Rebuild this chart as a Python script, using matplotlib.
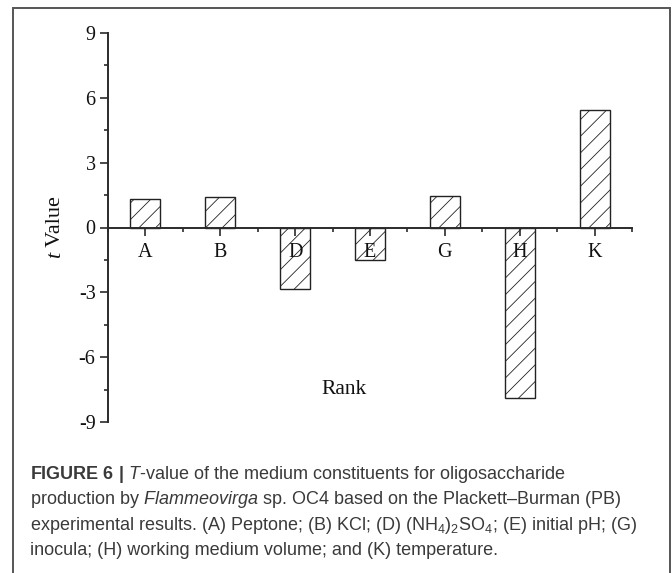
import matplotlib.pyplot as plt
from matplotlib.patches import Rectangle

# t values of the Plackett-Burman factors
factors = ['A', 'B', 'D', 'E', 'G', 'H', 'K']
t_values = [1.33, 1.42, -2.85, -1.49, 1.48, -7.87, 5.44]
y_ticks = [-9, -6, -3, 0, 3, 6, 9]

caption_lines = [
    r"$\mathbf{FIGURE\ 6\ |}$ $\mathit{T}$-value of the medium constituents for oligosaccharide",
    r"production by $\mathit{Flammeovirga}$ sp. OC4 based on the Plackett–Burman (PB)",
    r"experimental results. (A) Peptone; (B) KCl; (D) (NH$_4$)$_2$SO$_4$; (E) initial pH; (G)",
    r"inocula; (H) working medium volume; and (K) temperature.",
]

plt.rcParams['mathtext.fontset'] = 'custom'
plt.rcParams['mathtext.rm'] = 'Liberation Sans'
plt.rcParams['mathtext.it'] = 'Liberation Sans:italic'
plt.rcParams['mathtext.bf'] = 'Liberation Sans:bold'
plt.rcParams['hatch.linewidth'] = 0.6

serif = 'Liberation Serif'
axis_col = '#2b2b2b'

fig = plt.figure(figsize=(6.72, 5.73), dpi=100)
ax = fig.add_axes([108 / 672, 1 - 422 / 573, (632 - 108) / 672, (422 - 33) / 573])

x = list(range(len(factors)))
ax.bar(x, t_values, width=0.4, color='white', edgecolor='#222222',
       linewidth=1.0, hatch='//')

ax.set_xlim(-0.5, 6.5)
ax.set_ylim(-9, 9)

for side in ['top', 'right']:
    ax.spines[side].set_visible(False)
ax.spines['bottom'].set_position(('data', 0))
for side in ['left', 'bottom']:
    ax.spines[side].set_color(axis_col)
    ax.spines[side].set_linewidth(1.4)

ax.set_xticks(x)
ax.set_xticklabels(factors)
ax.set_xticks([i + 0.5 for i in range(-1, 7)], minor=True)
ax.set_yticks(y_ticks)
ax.set_yticklabels([str(v) for v in y_ticks])
ax.set_yticks([v + 1.5 for v in y_ticks[:-1]], minor=True)
ax.tick_params(axis='both', which='major', direction='out', length=6,
               width=1.2, color=axis_col, labelsize=14.5, pad=3)
ax.tick_params(axis='both', which='minor', direction='out', length=3,
               width=1.2, color=axis_col)
ax.tick_params(axis='x', which='major', pad=5)
for lab in ax.get_xticklabels() + ax.get_yticklabels():
    lab.set_fontfamily(serif)
    lab.set_color('#111111')

# y label: italic t followed by "Value"
t_txt = fig.text(56 / 672, 1 - 258 / 573, 't', rotation=90,
                 fontfamily=serif, fontstyle='italic', fontsize=16,
                 ha='center', va='bottom', color='#111111')
ax.annotate(' Value', xy=(0.5, 1), xycoords=t_txt, rotation=90,
            ha='center', va='bottom', fontfamily=serif, fontsize=16,
            color='#111111')

ax.text(344.5 / 672, 1 - 390 / 573, 'Rank', transform=fig.transFigure,
        ha='center', va='center', fontfamily=serif, fontsize=15.5,
        color='#111111')

# caption
for i, line in enumerate(caption_lines):
    fig.text(30 / 672, 1 - (479 + 25.3 * i) / 573, line, fontfamily='Liberation Sans',
             fontsize=13.0, color='#3a3a3a', ha='left', va='baseline')

# frame around the figure panel
fig.patches.append(Rectangle((13 / 672, -0.05), (670 - 13) / 672, 1.05 - 8 / 573,
                             transform=fig.transFigure, fill=False,
                             edgecolor='#555555', linewidth=1.4))

fig.savefig('out.png', dpi=100)
